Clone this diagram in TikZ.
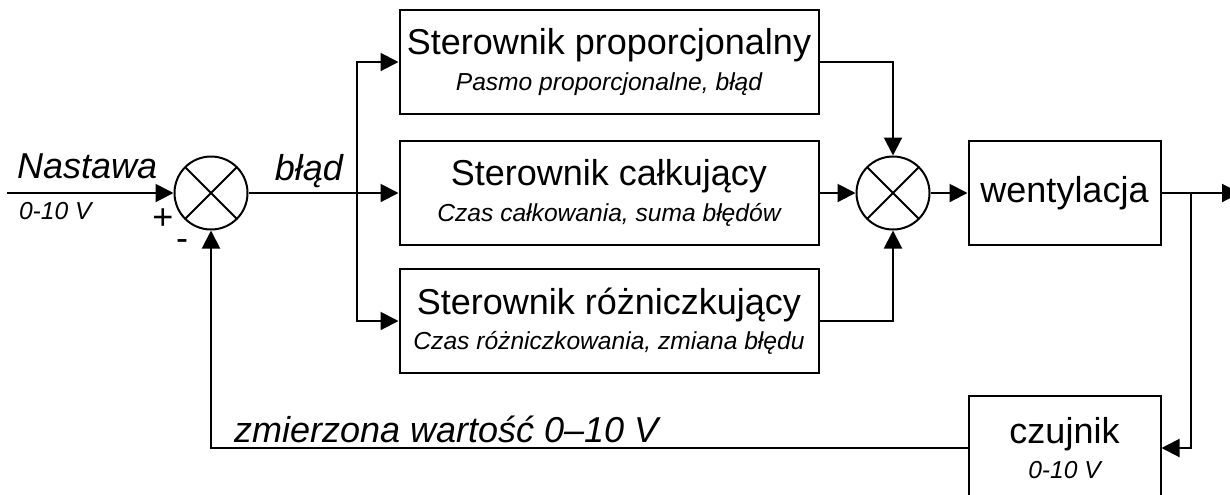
\documentclass[tikz,border=0pt]{standalone}
\usepackage{fontspec}
\setmainfont{Liberation Sans}
\usetikzlibrary{arrows.meta, positioning}
\newcommand{\titletxt}{\fontsize{18}{17}\selectfont}
\newcommand{\subtxt}{\fontsize{12.3}{17}\selectfont\itshape}

\begin{document}
\begin{tikzpicture}[
x=1pt, y=1pt,
node distance=12.5pt and 18pt,
box/.style={draw, line width=1pt, align=center, minimum width=209.5pt, minimum height=52pt, inner sep=0pt},
sumnode/.style={circle, draw, line width=1pt, minimum size=36.5pt, inner sep=0pt,
  path picture={\draw[line width=1pt] (path picture bounding box.north west) -- (path picture bounding box.south east)
    (path picture bounding box.north east) -- (path picture bounding box.south west);}},
arrow/.style={-{Triangle[length=9pt, width=9pt]}, line width=1pt}
]
\useasboundingbox (0,0) rectangle (615,-247);
\clip (0,0) rectangle (615,-247);

\node[sumnode] (sum1) at (105.5,-96.5) {};
\node[box, right=75pt of sum1] (calk) {\titletxt Sterownik całkujący\\[4pt]\subtxt Czas całkowania, suma błędów};
\node[box, above=of calk] (prop) {\titletxt Sterownik proporcjonalny\\[4pt]\subtxt Pasmo proporcjonalne, błąd};
\node[box, below=11pt of calk] (rozn) {\titletxt Sterownik różniczkujący\\[4pt]\subtxt Czas różniczkowania, zmiana błędu};
\node[sumnode, right=of calk] (sum2) {};
\node[box, minimum width=96pt, right=18.5pt of sum2] (went) {\titletxt wentylacja};
\node[box, minimum width=96pt, below=74.5pt of went] (czuj) {\titletxt czujnik\\[4pt]\subtxt 0-10 V};

\coordinate (in) at (3.5,-96.5);
\coordinate (br1) at (178.5,-96.5);
\coordinate (br2) at (595.5,-96.5);
\coordinate (out) at (620,-96.5);

\node[anchor=base west, font=\titletxt\itshape] (nast) at (5,-89) {Nastawa};
\node[anchor=base west, font=\subtxt] (nastv) at (6,-109.5) {0-10 V};
\node[font=\titletxt] (plus) at (81.5,-109.5) {+};
\node[font=\titletxt] (minus) at (91,-122.5) {-};
\node[anchor=base, font=\titletxt\itshape] (blad) at (154.5,-90) {błąd};
\node[anchor=base west, font=\titletxt\itshape] (zmierz) at (113.5,-221) {zmierzona wartość 0–10 V};

\draw[arrow] (in) -- (sum1);
\draw[arrow] (sum1) -- (calk);
\draw[arrow] (br1) |- (prop);
\draw[arrow] (br1) |- (rozn);
\draw[arrow] (prop) -| (sum2);
\draw[arrow] (calk) -- (sum2);
\draw[arrow] (rozn) -| (sum2);
\draw[arrow] (sum2) -- (went);
\draw[arrow] (went) -- (out);
\draw[arrow] (br2) |- (czuj);
\draw[arrow] (czuj) -| (sum1);

\end{tikzpicture}
\end{document}
